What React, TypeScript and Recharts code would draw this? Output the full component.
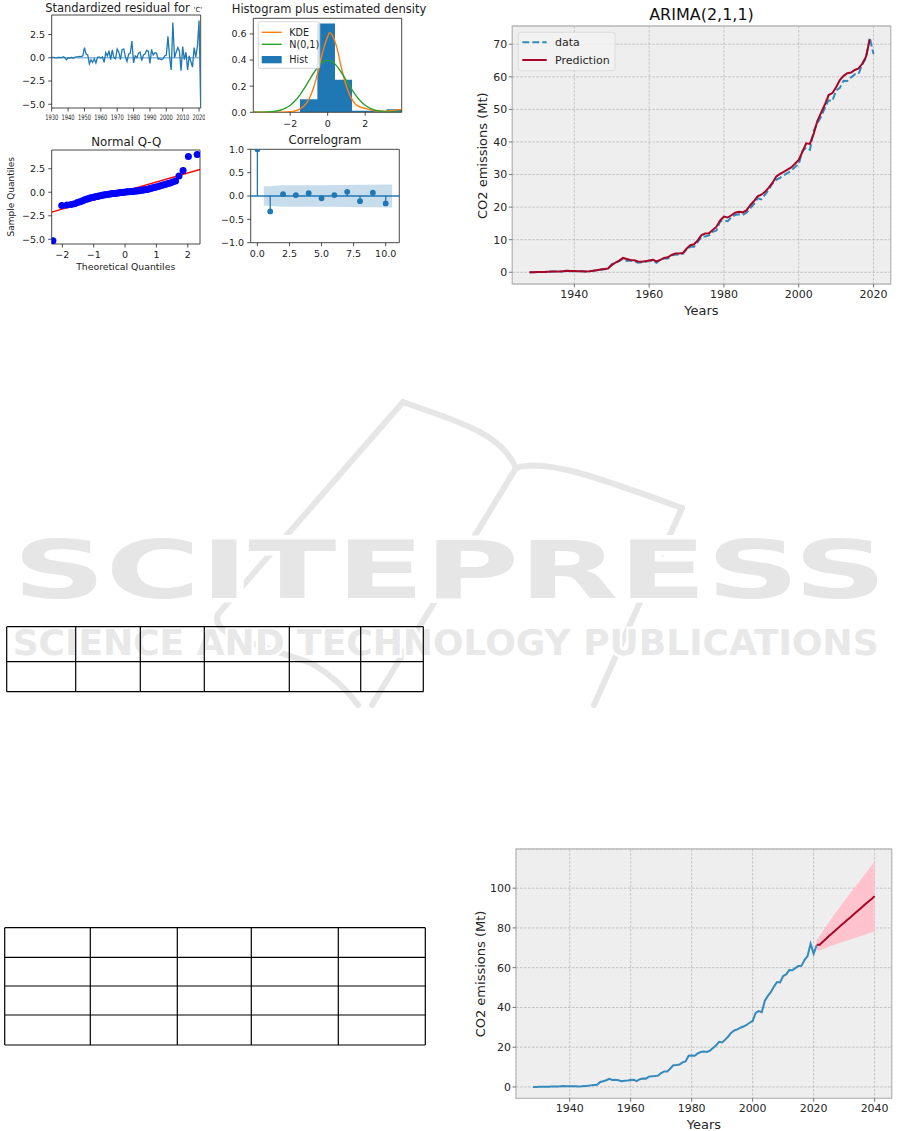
import React from 'react';
import {
  ComposedChart,
  Line,
  Area,
  Scatter,
  XAxis,
  YAxis,
  CartesianGrid,
  ReferenceLine,
  ReferenceArea,
} from 'recharts';

const FONT = "'DejaVu Sans', Verdana, sans-serif";
const INK = '#222222';

const minus = (s: string) => s.replace('-', '\u2212');
const f1 = (v: number) => minus(v.toFixed(1));
const f0 = (v: number) => minus(String(v));

// ---------- Standardized residual ----------
const residualStartYear = 1930;
const residualValues = [
  0.05, 0.05, 0.02, 0.0, 0.03, 0.05, 0.0, 0.12, 0.02, -0.2,
  0.0, -0.05, 0.05, -0.05, 0.05, 0.1, 0.1, 0.15, 0.12, 0.2,
  1.1, 0.4, 0.3, -0.65, -0.2, -0.5, -0.1, -0.55, 0.05, 0.1,
  -0.05, 0.1, -0.5, 0.55, 0.2, 0.75, -0.2, 0.85, 0.0, -0.1,
  0.95, 0.6, -0.2, 0.9, 0.95, 0.1, -0.4, 0.4, 0.5, 1.8,
  -0.55, 0.2, 0.0, 0.5, 0.6, -0.3, 0.3, 0.4, 0.8, 0.7,
  -0.6, 0.9, 0.3, 0.55, 0.5, -0.15, -0.1, -0.2, -0.1, 0.2,
  0.3, 2.3, 0.1, -1.3, 3.8, 0.0, 0.6, 1.1, 0.7, -1.4,
  1.2, -0.2, 0.6, -1.3, 0.2, -0.4, -1.0, 1.1, 0.1, 1.25,
  4.0, -5.2,
];
const residualXTicks = [1930, 1940, 1950, 1960, 1970, 1980, 1990, 2000, 2010, 2020];
const residualYTicks = [-5, -2.5, 0, 2.5];

// ---------- Histogram plus estimated density ----------
const histEdges = [-1.48, -0.55, 0.39, 1.3, 2.22, 3.14, 4.06];
const histHeights = [0.1, 0.68, 0.25, 0.0117, 0.0117, 0.0234, 0.0234];
const kdeX = [-3.95, -3.0, -2.5, -2.0, -1.75, -1.5, -1.25, -1.0, -0.75, -0.5, -0.25, 0.0, 0.1, 0.25, 0.5, 0.75, 1.0, 1.25, 1.5, 1.75, 2.0, 2.5, 3.0, 3.5, 3.95];
const kdeY = [0.0, 0.0, 0.001, 0.004, 0.01, 0.025, 0.05, 0.1, 0.19, 0.32, 0.47, 0.58, 0.61, 0.59, 0.49, 0.33, 0.2, 0.11, 0.06, 0.04, 0.03, 0.012, 0.008, 0.015, 0.022];
const normX = [-3.95, -3.5, -3.0, -2.5, -2.25, -2.0, -1.75, -1.5, -1.25, -1.0, -0.75, -0.5, -0.25, 0.0, 0.25, 0.5, 0.75, 1.0, 1.25, 1.5, 1.75, 2.0, 2.25, 2.5, 3.0, 3.5, 3.95];
const normY = [0.0002, 0.0009, 0.0044, 0.0175, 0.032, 0.054, 0.086, 0.13, 0.183, 0.242, 0.301, 0.352, 0.387, 0.399, 0.387, 0.352, 0.301, 0.242, 0.183, 0.13, 0.086, 0.054, 0.032, 0.0175, 0.0044, 0.0009, 0.0002];
const histXTicks = [-2, 0, 2];
const histYTicks = [0, 0.2, 0.4, 0.6];

// ---------- Normal Q-Q ----------
const qqTheoretical = [
  -2.3, -2.02, -1.85, -1.72, -1.61, -1.52, -1.44, -1.37, -1.3, -1.24, -1.18, -1.12, -1.06, -1.0, -0.95, -0.89,
  -0.84, -0.78, -0.73, -0.68, -0.63, -0.58, -0.53, -0.48, -0.43, -0.38, -0.33, -0.28, -0.23, -0.18, -0.13, -0.08,
  -0.03, 0.03, 0.08, 0.13, 0.18, 0.23, 0.28, 0.33, 0.38, 0.43, 0.48, 0.53, 0.58, 0.63, 0.68, 0.73, 0.78, 0.84,
  0.89, 0.95, 1.0, 1.06, 1.12, 1.18, 1.24, 1.3, 1.37, 1.44, 1.52, 1.61, 1.72, 1.85, 2.02, 2.3,
];
const qqSample = [
  -5.15, -1.4, -1.35, -1.3, -1.22, -1.1, -1.0, -0.92, -0.82, -0.75, -0.68, -0.62, -0.56, -0.52, -0.48, -0.44,
  -0.4, -0.36, -0.33, -0.3, -0.27, -0.24, -0.21, -0.19, -0.17, -0.14, -0.12, -0.1, -0.08, -0.06, -0.04, -0.02,
  0.0, 0.02, 0.04, 0.05, 0.07, 0.09, 0.1, 0.12, 0.14, 0.16, 0.18, 0.2, 0.23, 0.26, 0.3, 0.33, 0.37, 0.42,
  0.47, 0.52, 0.56, 0.62, 0.68, 0.74, 0.8, 0.86, 0.92, 0.98, 1.08, 1.2, 1.72, 2.3, 3.8, 4.0,
];
const qqLineX = [-2.34, 2.39];
const qqLineY = [-2.12, 2.42];
const qqXTicks = [-2, -1, 0, 1, 2];
const qqYTicks = [-5, -2.5, 0, 2.5];

// ---------- Correlogram ----------
const acfLags = [0, 1, 2, 3, 4, 5, 6, 7, 8, 9, 10];
const acfValues = [1.0, -0.33, 0.04, 0.02, 0.06, -0.05, 0.02, 0.09, -0.11, 0.07, -0.16];
const bandLags = [0.5, 1, 1.5, 2, 3, 4, 5, 6, 7, 8, 9, 10, 10.5];
const bandHalfWidth = [0.21, 0.21, 0.225, 0.228, 0.229, 0.23, 0.232, 0.233, 0.236, 0.24, 0.242, 0.245, 0.245];
const acfXTicks = [0, 2.5, 5, 7.5, 10];
const acfYTicks = [-1, -0.5, 0, 0.5, 1];

// ---------- CO2 emissions ----------
const co2StartYear = 1928;
const co2Data = [
  0.0, 0.0, 0.05, 0.1, 0.1, 0.15, 0.2, 0.2, 0.25, 0.3,
  0.45, 0.35, 0.35, 0.3, 0.3, 0.25, 0.3, 0.45, 0.6, 0.8,
  0.95, 1.1, 2.5, 2.9, 3.4, 4.1, 3.5, 3.6, 3.4, 2.9,
  3.1, 3.2, 3.5, 3.6, 2.9, 3.9, 4.3, 4.2, 5.2, 5.4,
  5.5, 5.7, 7.0, 7.8, 7.8, 9.3, 10.9, 11.0, 11.3, 12.4,
  12.8, 15.7, 15.8, 15.7, 16.9, 17.6, 17.8, 17.6, 18.3, 19.6,
  20.9, 22.7, 22.4, 23.8, 25.4, 27.3, 28.4, 29.0, 29.8, 30.4,
  31.2, 32.3, 33.2, 37.3, 38.2, 37.6, 43.4, 45.8, 47.8, 50.5,
  52.8, 52.6, 55.8, 56.6, 58.8, 58.7, 59.8, 60.8, 60.9, 63.8,
  65.8, 72.0, 67.0,
];
const co2Data2021 = 71.3;
const co2Prediction = [
  0.0, 0.0, 0.05, 0.1, 0.1, 0.15, 0.2, 0.2, 0.25, 0.3,
  0.45, 0.4, 0.38, 0.33, 0.3, 0.27, 0.3, 0.45, 0.65, 0.85,
  1.0, 1.15, 2.2, 3.0, 3.6, 4.4, 4.1, 3.8, 3.7, 3.3,
  3.2, 3.4, 3.6, 3.8, 3.3, 3.8, 4.4, 4.6, 5.3, 5.8,
  5.8, 5.9, 7.2, 8.3, 8.6, 9.8, 11.4, 11.9, 12.0, 13.0,
  14.0, 15.9, 17.1, 16.8, 17.5, 18.3, 18.6, 18.4, 19.0, 20.5,
  21.8, 23.3, 23.8, 24.7, 26.0, 27.5, 29.4, 30.2, 30.8, 31.5,
  32.2, 33.3, 34.5, 37.0, 39.6, 39.4, 42.5, 46.5, 49.0, 51.5,
  54.4, 55.0, 56.8, 59.0, 60.3, 61.1, 61.3, 62.1, 62.6, 64.0,
  66.2, 71.5,
];
const forecastStartYear = 2021;
const forecastValues = [71.5, 71.5, 73.0, 74.4, 75.9, 77.2, 78.6, 79.9, 81.3, 82.6, 84.0, 85.3, 86.6, 88.0, 89.3, 90.6, 92.0, 93.3, 94.6, 96.0];
const forecastLower = [68.8, 68.6, 69.3, 69.9, 70.5, 71.1, 71.7, 72.2, 72.7, 73.2, 73.7, 74.2, 74.7, 75.2, 75.7, 76.2, 76.7, 77.2, 77.7, 78.3];
const forecastUpper = [74.0, 76.0, 78.3, 80.6, 82.8, 85.0, 87.2, 89.3, 91.4, 93.4, 95.4, 97.4, 99.4, 101.4, 103.4, 105.4, 107.4, 109.4, 111.5, 113.6];
const arimaXTicks = [1940, 1960, 1980, 2000, 2020];
const arimaYTicks = [0, 10, 20, 30, 40, 50, 60, 70];
const forecastXTicks = [1940, 1960, 1980, 2000, 2020, 2040];
const forecastYTicks = [0, 20, 40, 60, 80, 100];

// ---------- derived rows ----------
const residualRows = residualValues.map((r, i) => ({ year: residualStartYear + i, r }));
const histRows = histEdges.map((x, i) => ({ x, h: histHeights[i] }));
const kdeRows = kdeX.map((x, i) => ({ x, k: kdeY[i] }));
const normRows = normX.map((x, i) => ({ x, n: normY[i] }));
const qqRows = qqTheoretical.map((x, i) => ({ x, y: qqSample[i] }));
const qqLineRows = qqLineX.map((x, i) => ({ x, y: qqLineY[i] }));
const acfRows = acfLags.map((lag, i) => ({ lag, v: acfValues[i] }));
const bandRows = bandLags.map((lag, i) => ({ lag, band: [-bandHalfWidth[i], bandHalfWidth[i]] }));
const arimaRows = co2Data.map((d, i) => ({ year: co2StartYear + i, d, p: co2Prediction[i] }));
const observedRows = [...co2Data, co2Data2021].map((v, i) => ({ year: co2StartYear + i, v }));
const forecastRows = forecastValues.map((f, i) => ({ year: forecastStartYear + i, f }));
const ciRows = forecastLower.map((lo, i) => ({ year: forecastStartYear + i, ci: [lo, forecastUpper[i]] }));

const smallTick = { fontSize: 9.5, fill: INK, fontFamily: FONT };
const bigTick = { fontSize: 11, fill: '#262626', fontFamily: FONT };
const smallTickLine = { stroke: INK, strokeWidth: 0.8 };
const bigTickLine = { stroke: '#555', strokeWidth: 0.8 };

const ResidTick = (props: any) => {
  const { x, y, payload } = props;
  return (
    <g transform={`translate(${x},${y}) scale(0.68,1)`}>
      <text x={0} y={0} dy="0.71em" textAnchor="middle" fontSize={7.6} fill={INK} fontFamily={FONT}>
        {payload.value}
      </text>
    </g>
  );
};

const blueDot = (props: any) => <circle cx={props.cx} cy={props.cy} r={3.5} fill="#0000ff" />;
const acfDot = (props: any) => <circle cx={props.cx} cy={props.cy} r={2.9} fill="#1f77b4" />;

const Abs: React.FC<{ left: number; top: number; children: React.ReactNode }> = ({ left, top, children }) => (
  <div style={{ position: 'absolute', left, top }}>{children}</div>
);

const ResidualChart = () => (
  <ComposedChart width={205} height={130} margin={{ top: 15, right: 4.3, bottom: 0, left: 0 }} data={residualRows}>
    <XAxis type="number" dataKey="year" domain={[1930, 2021]} ticks={residualXTicks} interval={0} allowDataOverflow height={22} axisLine={false} tickSize={3.5} tickMargin={3.5} tickLine={smallTickLine} tick={<ResidTick />} />
    <YAxis type="number" domain={[-5.4, 4.6]} ticks={residualYTicks} interval={0} allowDataOverflow width={51.7} axisLine={false} tickSize={3.5} tickMargin={3.2} tickLine={smallTickLine} tick={smallTick} tickFormatter={f1} />
    <ReferenceLine y={0} stroke="#1f77b4" strokeOpacity={0.5} strokeWidth={1.5} />
    <Line type="linear" dataKey="r" stroke="#1f77b4" strokeWidth={1.3} dot={false} isAnimationActive={false} />
    <ReferenceArea x1={1930} x2={2021} y1={-5.4} y2={4.6} fill="none" stroke="#333" strokeWidth={0.9} />
  </ComposedChart>
);

const HistChart = () => (
  <ComposedChart width={205} height={136.3} margin={{ top: 18.3, right: 3.3, bottom: 0, left: 0 }}>
    <XAxis type="number" dataKey="x" domain={[-3.97, 3.95]} ticks={histXTicks} interval={0} allowDataOverflow height={24} axisLine={false} tickSize={3.5} tickMargin={4} tickLine={smallTickLine} tick={smallTick} tickFormatter={f0} />
    <YAxis type="number" domain={[0, 0.72]} ticks={histYTicks} interval={0} allowDataOverflow width={53.3} axisLine={false} tickSize={3.5} tickMargin={3.2} tickLine={smallTickLine} tick={smallTick} tickFormatter={f1} />
    <Area data={histRows} type="stepAfter" dataKey="h" fill="#1f77b4" fillOpacity={1} stroke="none" isAnimationActive={false} />
    <Line data={kdeRows} type="monotone" dataKey="k" stroke="#ff7f0e" strokeWidth={1.4} dot={false} isAnimationActive={false} />
    <Line data={normRows} type="monotone" dataKey="n" stroke="#2ca02c" strokeWidth={1.4} dot={false} isAnimationActive={false} />
    <ReferenceArea x1={-3.97} x2={3.95} y1={0} y2={0.72} fill="none" stroke="#333" strokeWidth={0.9} />
  </ComposedChart>
);

const QQChart = () => (
  <ComposedChart width={204} height={136} margin={{ top: 20, right: 4, bottom: 0, left: 0 }}>
    <XAxis type="number" dataKey="x" domain={[-2.34, 2.39]} ticks={qqXTicks} interval={0} allowDataOverflow height={22} axisLine={false} tickSize={3.5} tickMargin={4} tickLine={smallTickLine} tick={smallTick} tickFormatter={f0} />
    <YAxis type="number" domain={[-5.5, 4.49]} ticks={qqYTicks} interval={0} allowDataOverflow width={51.7} axisLine={false} tickSize={3.5} tickMargin={3.2} tickLine={smallTickLine} tick={smallTick} tickFormatter={f1} />
    <Scatter data={qqRows} dataKey="y" shape={blueDot} isAnimationActive={false} />
    <Line data={qqLineRows} type="linear" dataKey="y" stroke="#ff0000" strokeWidth={1.3} dot={false} isAnimationActive={false} />
    <ReferenceArea x1={-2.34} x2={2.39} y1={-5.5} y2={4.49} fill="none" stroke="#333" strokeWidth={0.9} />
  </ComposedChart>
);

const AcfChart = () => (
  <ComposedChart width={203} height={134.7} margin={{ top: 19.3, right: 3.7, bottom: 0, left: 0 }}>
    <XAxis type="number" dataKey="lag" domain={[-0.52, 11.06]} ticks={acfXTicks} interval={0} allowDataOverflow height={22} axisLine={false} tickSize={3.5} tickMargin={4} tickLine={smallTickLine} tick={smallTick} tickFormatter={f1} />
    <YAxis type="number" domain={[-1, 1]} ticks={acfYTicks} interval={0} allowDataOverflow width={50.7} axisLine={false} tickSize={3.5} tickMargin={3.2} tickLine={smallTickLine} tick={smallTick} tickFormatter={f1} />
    <Area data={bandRows} type="linear" dataKey="band" fill="#1f77b4" fillOpacity={0.25} stroke="none" isAnimationActive={false} />
    <ReferenceLine y={0} stroke="#1f77b4" strokeWidth={1.3} />
    {acfRows.map((row) => (
      <Line
        key={row.lag}
        data={[{ lag: row.lag, v: 0 }, row]}
        type="linear"
        dataKey="v"
        stroke="#1f77b4"
        strokeWidth={1.3}
        dot={false}
        isAnimationActive={false}
      />
    ))}
    <Scatter data={acfRows} dataKey="v" shape={acfDot} isAnimationActive={false} />
    <ReferenceArea x1={-0.52} x2={11.06} y1={-1} y2={1} fill="none" stroke="#333" strokeWidth={0.9} />
  </ComposedChart>
);

const ArimaChart = () => (
  <ComposedChart width={436} height={304} margin={{ top: 26, right: 10.3, bottom: 0, left: 0 }} data={arimaRows}>
    <CartesianGrid fill="#eeeeee" stroke="#b2b2b2" strokeDasharray="2.5 1.5" strokeWidth={0.7} />
    <XAxis type="number" dataKey="year" domain={[1923.4, 2024.6]} ticks={arimaXTicks} interval={0} allowDataOverflow height={20} axisLine={false} tickSize={3.5} tickMargin={2.5} tickLine={bigTickLine} tick={bigTick} />
    <YAxis type="number" domain={[-3.6, 75.6]} ticks={arimaYTicks} interval={0} allowDataOverflow width={47.3} axisLine={false} tickSize={3.5} tickMargin={1.5} tickLine={bigTickLine} tick={bigTick} />
    <Line type="linear" dataKey="d" stroke="#348ABD" strokeWidth={2} strokeDasharray="7 3" dot={false} isAnimationActive={false} />
    <Line type="linear" dataKey="p" stroke="#A60628" strokeWidth={2} dot={false} isAnimationActive={false} />
    <ReferenceArea x1={1923.4} x2={2024.6} y1={-3.6} y2={75.6} fill="none" stroke="#bcbcbc" strokeWidth={1.3} />
  </ComposedChart>
);

const ForecastChart = () => (
  <ComposedChart width={436} height={278.3} margin={{ top: 9, right: 9.3, bottom: 0, left: 0 }}>
    <CartesianGrid fill="#eeeeee" stroke="#b2b2b2" strokeDasharray="2.5 1.5" strokeWidth={0.7} />
    <XAxis type="number" dataKey="year" domain={[1922.4, 2045.6]} ticks={forecastXTicks} interval={0} allowDataOverflow height={20} axisLine={false} tickSize={3.5} tickMargin={2.5} tickLine={bigTickLine} tick={bigTick} />
    <YAxis type="number" domain={[-5.7, 119.7]} ticks={forecastYTicks} interval={0} allowDataOverflow width={51} axisLine={false} tickSize={3.5} tickMargin={1.5} tickLine={bigTickLine} tick={bigTick} />
    <Area data={ciRows} type="linear" dataKey="ci" fill="#ffc0cb" fillOpacity={0.95} stroke="none" isAnimationActive={false} />
    <Line data={observedRows} type="linear" dataKey="v" stroke="#348ABD" strokeWidth={2} dot={false} isAnimationActive={false} />
    <Line data={forecastRows} type="linear" dataKey="f" stroke="#A60628" strokeWidth={2} dot={false} isAnimationActive={false} />
    <ReferenceArea x1={1922.4} x2={2045.6} y1={-5.7} y2={119.7} fill="none" stroke="#bcbcbc" strokeWidth={1.3} />
  </ComposedChart>
);

const table1Cols = [6.7, 75.7, 140.3, 204.3, 289.3, 360.7, 423.3];
const table1Rows = [626.7, 661.7, 691.7];
const table2Cols = [4.7, 90.3, 177.3, 251.3, 338.3, 425.3];
const table2Rows = [927.7, 957.3, 986, 1015, 1045];

const Grid: React.FC<{ cols: number[]; rows: number[] }> = ({ cols, rows }) => (
  <g stroke="#000" strokeWidth={1.2}>
    {rows.map((y) => (
      <line key={'r' + y} x1={cols[0]} x2={cols[cols.length - 1]} y1={y} y2={y} />
    ))}
    {cols.map((x) => (
      <line key={'c' + x} x1={x} x2={x} y1={rows[0]} y2={rows[rows.length - 1]} />
    ))}
  </g>
);

const Background = () => (
  <svg width={901} height={1131} style={{ position: 'absolute', left: 0, top: 0 }}>
    <g stroke="#e6e6e6" strokeWidth={6} fill="none" strokeLinecap="round">
      <path d="M 403 402 L 218 614 Q 212 628 242 640 L 311 663 Q 340 680 358 705" />
      <path d="M 403 402 C 445 418, 500 430, 516 468" />
      <path d="M 516 468 C 545 458, 600 478, 682 508" />
      <path d="M 516 468 L 372 705" />
      <path d="M 682 508 L 594 705" />
    </g>
    <text x={12.7} y={598} fontFamily={FONT} fontWeight={700} fontSize={80} textLength={874} lengthAdjust="spacingAndGlyphs" fill="#e6e6e6" stroke="#ffffff" strokeWidth={9} style={{ paintOrder: 'stroke' }}>
      SCITEPRESS
    </text>
    <text x={12.7} y={655} fontFamily={FONT} fontWeight={700} fontSize={36} fill="#e8e8e8" stroke="#ffffff" strokeWidth={5} style={{ paintOrder: 'stroke' }}>
      SCIENCE AND TECHNOLOGY PUBLICATIONS
    </text>
    <Grid cols={table1Cols} rows={table1Rows} />
    <Grid cols={table2Cols} rows={table2Rows} />
  </svg>
);

const Overlay = () => (
  <svg width={901} height={1131} style={{ position: 'absolute', left: 0, top: 0, pointerEvents: 'none' }} fontFamily={FONT}>
    {/* small chart titles */}
    <text x={123.7} y={12.4} textAnchor="middle" fontSize={11.5} fill={INK}>
      Standardized residual for <tspan fontSize={7}>'C'</tspan>
    </text>
    <text x={329} y={13.4} textAnchor="middle" fontSize={11.5} fill={INK}>Histogram plus estimated density</text>
    <text x={126.3} y={145.7} textAnchor="middle" fontSize={11.8} fill={INK}>Normal Q-Q</text>
    <text x={325} y={144} textAnchor="middle" fontSize={11.7} fill={INK}>Correlogram</text>
    <text x={125.7} y={270} textAnchor="middle" fontSize={9.3} fill={INK}>Theoretical Quantiles</text>
    <text x={14.5} y={196.7} textAnchor="middle" fontSize={9.0} fill={INK} transform="rotate(-90 14.5 196.7)">Sample Quantiles</text>

    {/* histogram legend */}
    <rect x={258.3} y={21.7} width={61.5} height={46.6} rx={2} fill="#ffffff" fillOpacity={0.8} stroke="#cccccc" strokeWidth={0.8} />
    <line x1={261.7} x2={281.7} y1={32.3} y2={32.3} stroke="#ff7f0e" strokeWidth={1.4} />
    <text x={289.3} y={32.3} dy="0.355em" fontSize={9.6} fill={INK}>KDE</text>
    <line x1={261.7} x2={281.7} y1={44.3} y2={44.3} stroke="#2ca02c" strokeWidth={1.4} />
    <text x={289.3} y={44.3} dy="0.355em" fontSize={9.6} fill={INK}>N(0,1)</text>
    <rect x={261.7} y={56} width={20} height={7.3} fill="#1f77b4" />
    <text x={289.3} y={59.7} dy="0.355em" fontSize={9.6} fill={INK}>Hist</text>

    {/* ARIMA chart texts */}
    <text x={701.5} y={20} textAnchor="middle" fontSize={16} fill="#111">ARIMA(2,1,1)</text>
    <text x={701.5} y={314.5} textAnchor="middle" fontSize={13} fill="#262626">Years</text>
    <text x={486.6} y={155.7} textAnchor="middle" fontSize={13} fill="#262626" transform="rotate(-90 486.6 155.7)">CO2 emissions (Mt)</text>
    <rect x={518.3} y={32.3} width={96.7} height={38.4} rx={2.5} fill="#f2f2f2" fillOpacity={0.9} stroke="#d6d6d6" strokeWidth={0.8} />
    <line x1={522.3} x2={546.7} y1={42.3} y2={42.3} stroke="#348ABD" strokeWidth={2} strokeDasharray="7 3" />
    <text x={555} y={42.3} dy="0.355em" fontSize={11} fill="#262626">data</text>
    <line x1={522.3} x2={546.7} y1={60} y2={60} stroke="#A60628" strokeWidth={2} />
    <text x={555} y={60} dy="0.355em" fontSize={11} fill="#262626">Prediction</text>

    {/* Forecast chart texts */}
    <text x={704} y={1128.8} textAnchor="middle" fontSize={13} fill="#262626">Years</text>
    <text x={484.9} y={974} textAnchor="middle" fontSize={13} fill="#262626" transform="rotate(-90 484.9 974)">CO2 emissions (Mt)</text>
  </svg>
);

export default function App() {
  return (
    <div style={{ position: 'absolute', left: 0, top: 0, width: 901, height: 1131, background: '#ffffff', overflow: 'hidden', fontFamily: FONT }}>
      <Background />
      <Abs left={0} top={0}>
        <ResidualChart />
      </Abs>
      <Abs left={200} top={0}>
        <HistChart />
      </Abs>
      <Abs left={0} top={130}>
        <QQChart />
      </Abs>
      <Abs left={200} top={130}>
        <AcfChart />
      </Abs>
      <Abs left={465} top={0}>
        <ArimaChart />
      </Abs>
      <Abs left={465} top={840}>
        <ForecastChart />
      </Abs>
      <Overlay />
    </div>
  );
}
